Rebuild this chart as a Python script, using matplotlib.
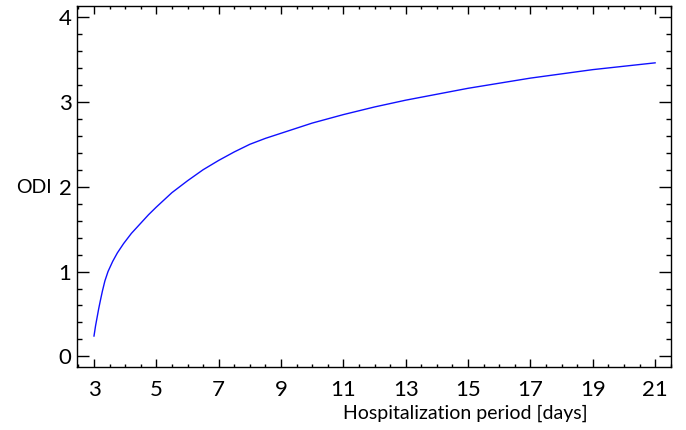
import matplotlib.pyplot as plt
from matplotlib.ticker import MultipleLocator

plt.rcParams['font.family'] = ['Lato', 'DejaVu Sans']

# Values
days = [3, 3.05, 3.1, 3.15, 3.2, 3.27, 3.35, 3.45, 3.6, 3.75, 3.95, 4.2, 4.5,
        4.75, 5, 5.5, 6, 6.5, 7, 7.5, 8, 8.5, 9, 9.5, 10, 11, 12,
        13, 14, 15, 16, 17, 18, 19, 20, 21]
odi = [0.24, 0.36, 0.46, 0.56, 0.65, 0.77, 0.89, 1.00, 1.12, 1.22, 1.33, 1.45,
       1.57, 1.67, 1.76, 1.93, 2.07, 2.20, 2.31, 2.41, 2.50, 2.57, 2.63, 2.69,
       2.75, 2.85, 2.94, 3.02, 3.09, 3.16, 3.22, 3.28, 3.33, 3.38, 3.42, 3.46]

xticks = [3, 5, 7, 9, 11, 13, 15, 17, 19, 21]
yticks = [0, 1, 2, 3, 4]

fig = plt.figure(figsize=(6.86, 4.30), dpi=100)
ax = fig.add_axes([77 / 686, 1 - 367 / 430, 594 / 686, 361 / 430])

ax.plot(days, odi, "-", color="#1010ff", linewidth=1.0)

ax.set_xlim(2.455, 21.51)
ax.set_ylim(-0.125, 4.13)
ax.set_xticks(xticks)
ax.set_yticks(yticks)
ax.xaxis.set_minor_locator(MultipleLocator(0.5))
ax.yaxis.set_minor_locator(MultipleLocator(0.2))

ax.tick_params(axis="both", which="both", direction="in", top=True, right=True,
               labelsize=16, colors="black", width=1.0)
ax.tick_params(axis="x", which="major", length=5.5, pad=9)
ax.tick_params(axis="x", which="minor", length=2.5)
ax.tick_params(axis="y", which="major", length=8.6, pad=4)
ax.tick_params(axis="y", which="minor", length=3.6)

for s in ax.spines.values():
    s.set_linewidth(1.0)

ax.set_xlabel("Hospitalization period [days]", fontsize=14)
ax.xaxis.set_label_coords((465 - 77) / 594, -0.105)
ax.set_ylabel("ODI", fontsize=14, rotation=0)
ax.yaxis.set_label_coords(-0.073, (367 - 196) / 361)

fig.savefig("out.png", dpi=100)
